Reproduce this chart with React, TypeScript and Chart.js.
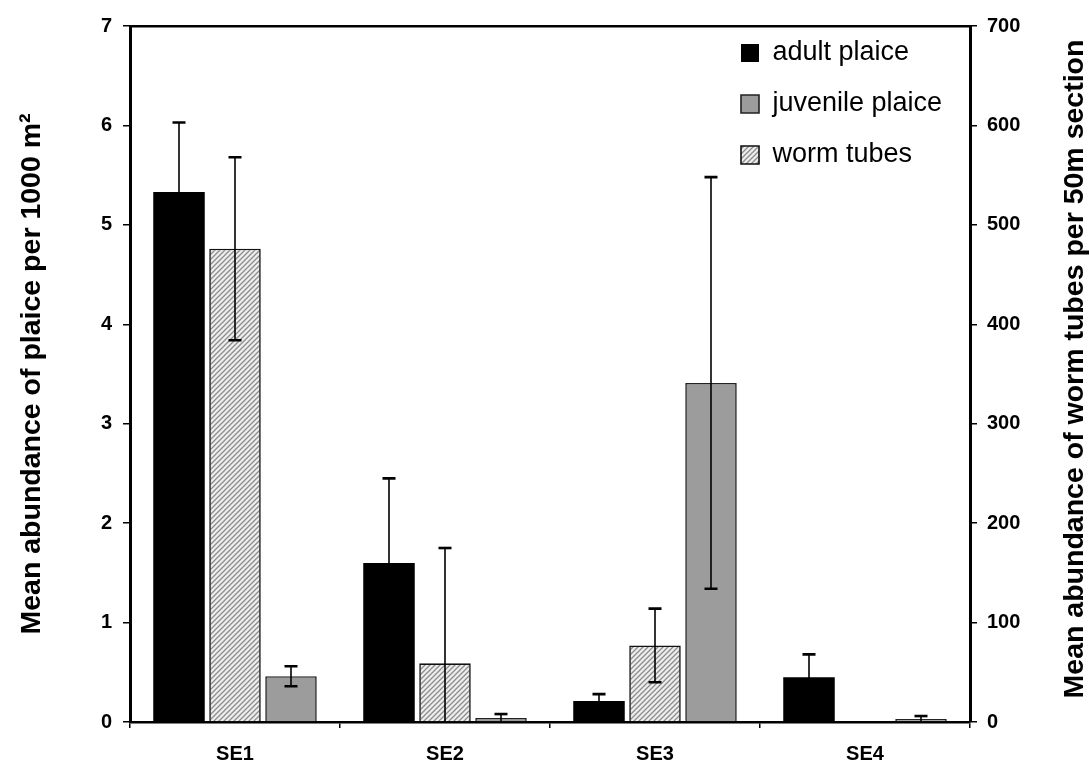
import React, { useEffect, useRef } from "react";
import { Chart, registerables } from "chart.js";

Chart.register(...registerables);

// Sites along the survey transect
const categories = ["SE1", "SE2", "SE3", "SE4"];

// Plaice per 1000 m² (left axis)
const adultPlaice = [5.33, 1.6, 0.21, 0.45];
const adultPlaiceErr = [0.7, 0.85, 0.07, 0.23];
const juvenilePlaice = [0.46, 0.04, 3.41, 0.03];
const juvenilePlaiceErr = [0.1, 0.04, 2.07, 0.03];

// Worm tubes per 50 m section (right axis)
const wormTubes = [476, 59, 77, 0];
const wormTubesErr = [92, 116, 37, 0];

// Axis tick values
const leftTicks = [0, 1, 2, 3, 4, 5, 6, 7];
const rightTicks = [0, 100, 200, 300, 400, 500, 600, 700];

const legendOrder = ["adult plaice", "juvenile plaice", "worm tubes"];

const FONT = "'Liberation Sans', Arial, Helvetica, sans-serif";
const TITLE_SIZE = 28.5;

function makeHatch(): CanvasPattern | string {
  const tile = document.createElement("canvas");
  const s = 5;
  tile.width = s;
  tile.height = s;
  const c = tile.getContext("2d");
  if (!c) return "#ddd";
  c.fillStyle = "#eeeeee";
  c.fillRect(0, 0, s, s);
  c.strokeStyle = "#8c8c8c";
  c.lineWidth = 1.3;
  c.beginPath();
  c.moveTo(-1, s + 1);
  c.lineTo(s + 1, -1);
  c.moveTo(-1, 1);
  c.lineTo(1, -1);
  c.moveTo(s - 1, s + 1);
  c.lineTo(s + 1, s - 1);
  c.stroke();
  const p = c.createPattern(tile, "repeat");
  return p || "#ddd";
}

// Error bars drawn from each dataset's own y scale
const errorBarPlugin = {
  id: "errorBars",
  afterDatasetsDraw(chart: any) {
    const ctx = chart.ctx;
    const area = chart.chartArea;
    chart.data.datasets.forEach((ds: any, di: number) => {
      const meta = chart.getDatasetMeta(di);
      const yScale = chart.scales[meta.yAxisID];
      const errs: number[] = ds.errors || [];
      meta.data.forEach((bar: any, i: number) => {
        const v = ds.data[i];
        const e = errs[i];
        if (!e) return;
        const x = bar.x;
        const yTop = yScale.getPixelForValue(v + e);
        const lowVal = v - e;
        const yBot = lowVal > 0 ? yScale.getPixelForValue(lowVal) : area.bottom;
        const half = 6.5;
        ctx.save();
        ctx.strokeStyle = "#000";
        ctx.lineWidth = 1.6;
        ctx.beginPath();
        ctx.moveTo(x, yTop);
        ctx.lineTo(x, yBot);
        ctx.stroke();
        ctx.lineWidth = 2.6;
        ctx.beginPath();
        ctx.moveTo(x - half, yTop);
        ctx.lineTo(x + half, yTop);
        if (lowVal > 0) {
          ctx.moveTo(x - half, yBot);
          ctx.lineTo(x + half, yBot);
        }
        ctx.stroke();
        ctx.restore();
      });
    });
  },
};

// Legend placed in the upper right of the plot area
const legendPlacePlugin = {
  id: "legendPlace",
  afterLayout(chart: any) {
    const lg = chart.legend;
    if (!lg) return;
    const pad = lg.options.labels.padding;
    const size = lg.options.labels.font.size;
    lg.left = 741 - pad;
    lg.top = 53 - pad - size / 2;
  },
};

// Right-hand axis title, reading bottom to top
const rightTitlePlugin = {
  id: "rightTitle",
  afterDraw(chart: any) {
    const s = chart.scales.y2;
    const ctx = chart.ctx;
    ctx.save();
    ctx.translate(s.right - 14, (s.top + s.bottom) / 2 - 5);
    ctx.rotate(-Math.PI / 2);
    ctx.textAlign = "center";
    ctx.textBaseline = "middle";
    ctx.fillStyle = "#000";
    ctx.font = `bold ${TITLE_SIZE}px ${FONT}`;
    ctx.fillText("Mean abundance of worm tubes per 50m section", 0, 0);
    ctx.restore();
  },
};

export default function App() {
  const ref = useRef<HTMLCanvasElement | null>(null);

  useEffect(() => {
    if (!ref.current) return;
    const hatch = makeHatch();
    const tickFont = { family: FONT, size: 20, weight: "bold" as const };

    const chart = new Chart(ref.current, {
      type: "bar",
      data: {
        labels: categories,
        datasets: [
          {
            label: "adult plaice",
            data: adultPlaice,
            errors: adultPlaiceErr,
            yAxisID: "y",
            backgroundColor: "#000000",
            borderColor: "#000000",
            borderWidth: 0,
          } as any,
          {
            label: "worm tubes",
            data: wormTubes,
            errors: wormTubesErr,
            yAxisID: "y2",
            backgroundColor: hatch,
            borderColor: "#111111",
            borderWidth: 1.6,
          } as any,
          {
            label: "juvenile plaice",
            data: juvenilePlaice,
            errors: juvenilePlaiceErr,
            yAxisID: "y",
            backgroundColor: "#9c9c9c",
            borderColor: "#222222",
            borderWidth: 1.6,
          } as any,
        ],
      },
      options: {
        responsive: false,
        animation: false,
        events: [],
        layout: { padding: { top: 26, left: 0, right: 0, bottom: 0 } },
        datasets: {
          bar: { categoryPercentage: 0.8, barPercentage: 0.92, borderSkipped: "start" },
        },
        plugins: {
          tooltip: { enabled: false },
          legend: {
            display: true,
            position: "chartArea" as any,
            align: "start",
            labels: {
              font: { family: FONT, size: 27 },
              color: "#000",
              boxWidth: 18,
              boxHeight: 18,
              padding: 24,
              sort: (a: any, b: any) =>
                legendOrder.indexOf(a.text) - legendOrder.indexOf(b.text),
            },
          },
        },
        scales: {
          x: {
            type: "category",
            position: "bottom",
            offset: true,
            grid: {
              display: true,
              offset: true,
              drawOnChartArea: false,
              drawTicks: true,
              tickLength: 6,
              color: "#000",
              lineWidth: 1.5,
            },
            border: { display: true, color: "#000", width: 2.5 },
            ticks: { font: { family: FONT, size: 20, weight: "bold" }, color: "#000", padding: 14 },
            afterFit: (s: any) => {
              s.height = 41;
            },
          },
          xTop: {
            type: "category",
            position: "top",
            offset: true,
            grid: { display: false, drawTicks: false },
            ticks: { display: false },
            border: { display: true, color: "#000", width: 2.5 },
            afterFit: (s: any) => {
              s.height = 0;
            },
          },
          y: {
            type: "linear",
            position: "left",
            min: leftTicks[0],
            max: leftTicks[leftTicks.length - 1],
            afterBuildTicks: (s: any) => {
              s.ticks = leftTicks.map((v) => ({ value: v }));
            },
            ticks: { font: tickFont, color: "#000", padding: 11 },
            grid: {
              drawOnChartArea: false,
              drawTicks: true,
              tickLength: 7,
              color: "#000",
              lineWidth: 1.5,
            },
            border: { display: true, color: "#000", width: 3 },
            title: {
              display: true,
              text: "Mean abundance of plaice per 1000 m²",
              font: { family: FONT, size: TITLE_SIZE, weight: "bold" },
              color: "#000",
              padding: { top: 15, bottom: 0 },
            },
            afterFit: (s: any) => {
              s.width = 130;
            },
          },
          y2: {
            type: "linear",
            position: "right",
            min: rightTicks[0],
            max: rightTicks[rightTicks.length - 1],
            afterBuildTicks: (s: any) => {
              s.ticks = rightTicks.map((v) => ({ value: v }));
            },
            ticks: { font: tickFont, color: "#000", padding: 10 },
            grid: {
              drawOnChartArea: false,
              drawTicks: true,
              tickLength: 7,
              color: "#000",
              lineWidth: 1.5,
            },
            border: { display: true, color: "#000", width: 3 },
            afterFit: (s: any) => {
              s.width = 119;
            },
          },
        },
      } as any,
      plugins: [errorBarPlugin, legendPlacePlugin, rightTitlePlugin],
    });

    return () => chart.destroy();
  }, []);

  return (
    <div style={{ position: "absolute", left: 0, top: 0, width: 1089, height: 763, background: "#fff" }}>
      <canvas ref={ref} width={1089} height={763} />
    </div>
  );
}
